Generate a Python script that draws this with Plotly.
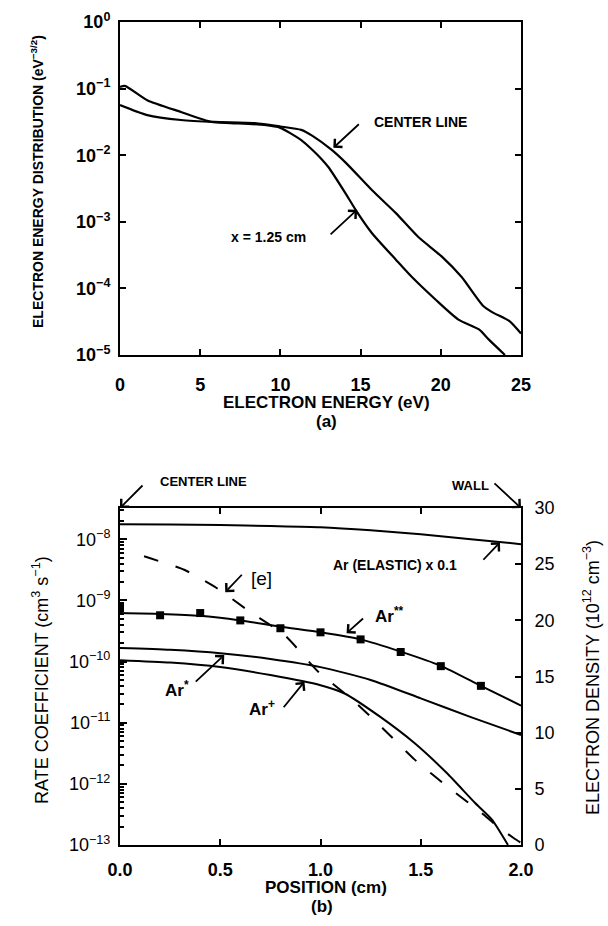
import plotly.graph_objects as go

# ---------------- data: panel (a) ----------------
energy_x125 = [0, 0.3, 1.7, 3.8, 5.7, 6.9, 9.0, 10.0, 11.3, 12.0, 12.5, 13.0, 14.05, 14.7,
               15.7, 17.2, 18.2, 19.7, 21.1, 22.4, 23.0, 24.0]
eedf_x125 = [0.106, 0.11, 0.067, 0.0446, 0.0316, 0.0304, 0.0284, 0.0257, 0.0169, 0.012, 0.0091,
             6.6e-3, 2.7e-3, 1.5e-3, 6.8e-4, 2.7e-4, 1.48e-4, 6.7e-5, 3.4e-5, 2.4e-5, 1.7e-5, 1.0e-5]
energy_center = [0, 1.7, 3.8, 5.9, 8.4, 10.0, 11.3, 12.0, 13.2, 14.1, 15.7, 17.2, 18.6, 20.1,
                 21.3, 22.6, 23.2, 24.3, 25.0]
eedf_center = [0.0567, 0.040, 0.0338, 0.0316, 0.0304, 0.027, 0.024, 0.0195, 0.012, 7.6e-3,
               3.0e-3, 1.35e-3, 5.9e-4, 2.95e-4, 1.48e-4, 5.6e-5, 4.4e-5, 3.2e-5, 2.1e-5]
a_xticks = [0, 5, 10, 15, 20, 25]
a_yticks = [1, 1e-1, 1e-2, 1e-3, 1e-4, 1e-5]
a_yticktext = ["10<sup>0</sup>", "10<sup>−1</sup>", "10<sup>−2</sup>", "10<sup>−3</sup>",
               "10<sup>−4</sup>", "10<sup>−5</sup>"]

# ---------------- data: panel (b) ----------------
pos = [0, 0.25, 0.5, 0.75, 1.0, 1.25, 1.5, 1.75, 2.0]
k_elastic = [1.76e-8, 1.74e-8, 1.7e-8, 1.64e-8, 1.57e-8, 1.4e-8, 1.2e-8, 1.0e-8, 8.3e-9]
k_arstar = [1.66e-10, 1.55e-10, 1.37e-10, 1.1e-10, 8.1e-11, 5.0e-11, 2.5e-11, 1.23e-11, 6.3e-12]
pos_ss = [0, 0.2, 0.4, 0.6, 0.8, 1.0, 1.2, 1.4, 1.6, 1.8, 2.0]
k_arss = [6.2e-10, 6.0e-10, 5.6e-10, 4.7e-10, 3.7e-10, 3.0e-10, 2.3e-10, 1.45e-10, 8.5e-11, 4.0e-11, 1.9e-11]
pos_sq = [0, 0.2, 0.4, 0.6, 0.8, 1.0, 1.2, 1.4, 1.6, 1.8]
k_arss_pts = [7.5e-10, 5.7e-10, 6.2e-10, 4.7e-10, 3.5e-10, 3.0e-10, 2.3e-10, 1.43e-10, 8.4e-11, 4.0e-11]
pos_ion = [0, 0.25, 0.5, 0.75, 1.0, 1.12, 1.3, 1.47, 1.63, 1.77, 1.855, 1.935]
k_ion = [1.05e-10, 9.6e-11, 8.1e-11, 6.0e-11, 4.1e-11, 3.0e-11, 1.23e-11, 4.6e-12, 1.5e-12,
         4.9e-13, 2.6e-13, 1.0e-13]
pos_ne = [0.12, 0.155, 0.32, 0.48, 0.645, 0.82, 0.99, 1.155, 1.31, 1.47, 1.64, 1.80, 1.88, 1.965, 2.0]
n_e = [25.7, 25.5, 24.5, 22.9, 20.8, 18.7, 15.4, 13.0, 10.4, 7.6, 5.1, 2.9, 1.7, 0.6, 0.2]
b_xticks = [0, 0.5, 1.0, 1.5, 2.0]
b_xticktext = ["0.0", "0.5", "1.0", "1.5", "2.0"]
b_yticks = [1e-13, 1e-12, 1e-11, 1e-10, 1e-9, 1e-8]
b_yticktext = ["10<sup>−13</sup>", "10<sup>−12</sup>", "10<sup>−11</sup>", "10<sup>−10</sup>",
               "10<sup>−9</sup>", "10<sup>−8</sup>"]
b_yminor = [m * d for d in b_yticks for m in range(2, 10) if m * d < 3.2e-8]
b_y2ticks = [0, 5, 10, 15, 20, 25, 30]

FONT = "Liberation Sans, Arial, sans-serif"
W, H = 608, 926

fig = go.Figure()
line_kw = dict(color="black", width=2.2, shape="spline", smoothing=0.6)

fig.add_trace(go.Scatter(x=energy_x125, y=eedf_x125, mode="lines", line=line_kw,
                         xaxis="x", yaxis="y", showlegend=False))
fig.add_trace(go.Scatter(x=energy_center, y=eedf_center, mode="lines", line=line_kw,
                         xaxis="x", yaxis="y", showlegend=False))

bl = dict(color="black", width=2, shape="spline", smoothing=0.6)
fig.add_trace(go.Scatter(x=pos, y=k_elastic, mode="lines", line=bl, xaxis="x2", yaxis="y2", showlegend=False))
fig.add_trace(go.Scatter(x=pos_ss, y=k_arss, mode="lines", line=bl, xaxis="x2", yaxis="y2", showlegend=False))
fig.add_trace(go.Scatter(x=pos_sq, y=k_arss_pts, mode="markers",
                         marker=dict(symbol="square", size=8, color="black"),
                         xaxis="x2", yaxis="y2", showlegend=False))
fig.add_trace(go.Scatter(x=pos, y=k_arstar, mode="lines", line=bl, xaxis="x2", yaxis="y2", showlegend=False))
fig.add_trace(go.Scatter(x=pos_ion, y=k_ion, mode="lines", line=bl, xaxis="x2", yaxis="y2", showlegend=False))
fig.add_trace(go.Scatter(x=pos_ne, y=n_e, mode="lines",
                         line=dict(color="black", width=2, dash="15px,18px", shape="spline", smoothing=0.6),
                         xaxis="x2", yaxis="y3", showlegend=False))

xdom = [120 / W, 521 / W]
ax_common = dict(showline=True, linewidth=2, linecolor="black", showgrid=False, zeroline=False,
                 ticks="inside", tickcolor="black", tickwidth=2, automargin=False)

fig.update_layout(
    width=W, height=H, margin=dict(l=0, r=0, t=0, b=0, autoexpand=False),
    paper_bgcolor="white", plot_bgcolor="white",
    font=dict(family=FONT, color="black"),
    xaxis=dict(domain=xdom, anchor="y", range=[0, 25], tickvals=a_xticks, ticklen=6,
               mirror="ticks", tickfont=dict(size=18, weight="bold"), ticklabelstandoff=12,
               **ax_common),
    yaxis=dict(domain=[1 - 355 / H, 1 - 22 / H], anchor="x", type="log", range=[-5, 0],
               tickvals=a_yticks, ticktext=a_yticktext, ticklen=6, mirror="ticks",
               tickfont=dict(size=18, weight="bold"), ticklabelstandoff=4, **ax_common),
    xaxis2=dict(domain=xdom, anchor="y2", range=[0, 2], tickvals=b_xticks, ticktext=b_xticktext,
                ticklen=6, mirror="ticks", tickfont=dict(size=18, weight="bold"),
                ticklabelstandoff=7, **ax_common),
    yaxis2=dict(domain=[1 - 845 / H, 1 - 508 / H], anchor="x2", type="log", range=[-13, -7.49],
                tickvals=b_yticks, ticktext=b_yticktext, ticklen=7, mirror=True,
                tickfont=dict(size=18), ticklabelstandoff=4,
                minor=dict(tickmode="array", tickvals=b_yminor, ticks="inside", ticklen=4,
                           tickcolor="black", tickwidth=1.5, showgrid=False),
                **ax_common),
    yaxis3=dict(overlaying="y2", anchor="x2", side="right", range=[0, 30], tickvals=b_y2ticks,
                ticklen=6, tickfont=dict(size=18), ticklabelstandoff=8, **ax_common),
)

ann = []
def txt(x, y, s, size=14, bold=True, angle=0):
    ann.append(dict(xref="paper", yref="paper", x=x / W, y=1 - y / H, text=s, showarrow=False,
                    textangle=angle, xanchor="center", yanchor="middle",
                    font=dict(family=FONT, size=size, color="black", weight="bold" if bold else "normal")))

def arrow(x, y, axp, ayp, xref, yref):
    ann.append(dict(xref=xref, yref=yref, x=x, y=y, ax=axp, ay=ayp, text="", showarrow=True,
                    arrowhead=4, arrowsize=1.2, arrowwidth=1.8, arrowcolor="black", standoff=0))

# axis titles
txt(326, 402, "ELECTRON ENERGY (eV)", size=17)
txt(326, 421, "(a)", size=17)
txt(37, 182, "ELECTRON ENERGY DISTRIBUTION (eV<sup>−3/2</sup>)", size=14, angle=-90)
txt(326, 887, "POSITION (cm)", size=17)
txt(322, 906, "(b)", size=17)
txt(40, 680, "RATE COEFFICIENT (cm<sup>3</sup> s<sup>−1</sup>)", size=18, bold=False, angle=-90)
txt(591, 678, "ELECTRON DENSITY (10<sup>12</sup> cm<sup>−3</sup>)", size=18, bold=False, angle=-90)

# panel (a) labels
txt(420, 122, "CENTER LINE", size=14)
arrow(13.3, -1.89, 27, -25, "x", "y")
txt(268, 237, "x = 1.25 cm", size=14)
arrow(14.78, -2.82, -28, 26, "x", "y")

# panel (b) labels
txt(203, 482, "CENTER LINE", size=13)
arrow(0, 1, 24, -24, "x2 domain", "y2 domain")
txt(470, 485, "WALL", size=13)
arrow(1, 1, -28, -26, "x2 domain", "y2 domain")
txt(261, 578, "[e]", size=19, bold=False)
arrow(0.525, 22.5, 18, -19, "x2", "y3")
txt(395, 565, "Ar (ELASTIC) x 0.1", size=14)
arrow(1.895, -8.05, -18, 19, "x2", "y2")
txt(389, 615, "Ar<sup>**</sup>", size=17)
arrow(1.13, -9.536, 18, -16, "x2", "y2")
txt(177, 689, "Ar<sup>*</sup>", size=17)
arrow(0.52, -9.895, -30, 28, "x2", "y2")
txt(262, 708, "Ar<sup>+</sup>", size=17)
arrow(0.92, -10.33, -22, 27, "x2", "y2")

fig.update_layout(annotations=ann)
fig.write_html("out.html")
